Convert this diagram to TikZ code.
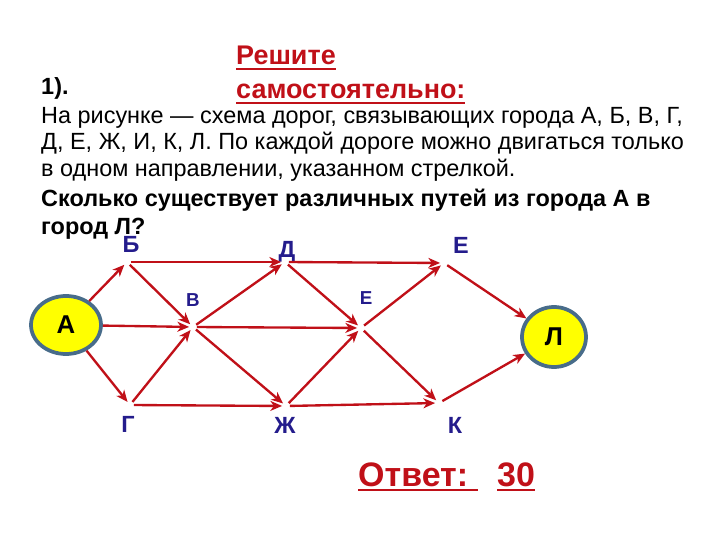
\documentclass[tikz,border=0pt]{standalone}
\usepackage{fontspec}
\setmainfont{Liberation Sans}
\usetikzlibrary{shapes.geometric, arrows.meta, positioning}
\definecolor{roadRed}{RGB}{192,16,24}
\definecolor{labelBlue}{RGB}{36,28,140}
\definecolor{cityRim}{RGB}{72,108,138}
\definecolor{cityFill}{RGB}{255,255,0}
\newcommand{\redline}[1]{\setbox0\hbox{#1}\rlap{\vrule height -2.2pt depth 4pt width \wd0}\box0}
\tikzstyle{city} = [draw=cityRim, fill=cityFill, ellipse, line width=3.2pt, inner sep=0pt, font=\fontsize{22}{26}\selectfont\bfseries]
\tikzstyle{junction} = [circle, inner sep=0pt, minimum size=0.22cm]
\tikzstyle{cityLabel} = [text=labelBlue, font=\fontsize{20}{23}\selectfont\bfseries]
\tikzstyle{smallLabel} = [text=labelBlue, font=\fontsize{16}{19}\selectfont\bfseries]
\tikzstyle{road} = [draw=roadRed, line width=2pt, -{Stealth[length=10pt, width=8.5pt, inset=3pt]}]
\tikzstyle{task} = [anchor=base west, inner sep=0pt, font=\fontsize{20}{23}\selectfont]
\tikzstyle{redTitle} = [anchor=base west, inner sep=0pt, text=roadRed, font=\fontsize{23}{26}\selectfont\bfseries]

\begin{document}
\begin{tikzpicture}[x=0.03cm, y=-0.03cm]
        \useasboundingbox (0,0) rectangle (720,540);
        % Task text
        \node [redTitle] (title) at (236,65) {\redline{Решите}};
        \node [redTitle] (titleTwo) at (236,99) {\redline{самостоятельно:}};
        \node [task, font=\fontsize{20}{23}\selectfont\bfseries] (number) at (41,95) {1).};
        \node [task] (lineOne) at (41,124) {На рисунке — схема дорог, связывающих города А, Б, В, Г,};
        \node [task] (lineTwo) at (41,150) {Д, Е, Ж, И, К, Л. По каждой дороге можно двигаться только};
        \node [task] (lineThree) at (41,177) {в одном направлении, указанном стрелкой.};
        \node [task, font=\fontsize{20}{23}\selectfont\bfseries] (question) at (41,207) {Сколько существует различных путей из города А в};
        \node [task, font=\fontsize{20}{23}\selectfont\bfseries] (questionTwo) at (41,235) {город Л?};

        % Cities
        \node [city, minimum width=2.1cm, minimum height=1.74cm] (cityA) at (66,325) {А};
        \node [city, minimum width=1.92cm, minimum height=1.8cm] (cityL) at (554,337) {Л};
        \node [junction] (cityB) at (127,262) {};
        \node [junction] (cityV) at (193,327) {};
        \node [junction] (cityG) at (130,405) {};
        \node [junction] (cityD) at (285,262) {};
        \node [junction] (cityZh) at (286,406) {};
        \node [junction] (cityI) at (361,328) {};
        \node [junction] (cityE) at (444,263) {};
        \node [junction] (cityK) at (439,403) {};

        % Labels
        \node [cityLabel] (labB) at (131,244) {Б};
        \node [cityLabel] (labD) at (287,252) {Д};
        \node [cityLabel] (labE) at (461,245) {Е};
        \node [smallLabel] (labV) at (193,300) {В};
        \node [smallLabel] (labI) at (366,298) {Е};
        \node [cityLabel] (labG) at (128,424) {Г};
        \node [cityLabel] (labZh) at (285,425) {Ж};
        \node [cityLabel] (labK) at (455,425) {К};

        % Roads
        \draw [road] (cityA) -- (cityB);
        \draw [road] (cityA) -- (cityV);
        \draw [road] (cityA) -- (cityG);
        \draw [road] (cityB) -- (cityD);
        \draw [road] (cityB) -- (cityV);
        \draw [road] (cityG) -- (cityV);
        \draw [road] (cityG) -- (cityZh);
        \draw [road] (cityV) -- (cityD);
        \draw [road] (cityV) -- (cityI);
        \draw [road] (cityV) -- (cityZh);
        \draw [road] (cityD) -- (cityI);
        \draw [road] (cityZh) -- (cityI);
        \draw [road] (cityD) -- (cityE);
        \draw [road] (cityZh) -- (cityK);
        \draw [road] (cityI) -- (cityE);
        \draw [road] (cityI) -- (cityK);
        \draw [road] (cityE) -- (cityL);
        \draw [road] (cityK) -- (cityL);

        % Answer
        \node [redTitle, font=\fontsize{29}{32}\selectfont\bfseries] (answer) at (358,486) {\redline{Ответ:\ }};
        \node [redTitle, font=\fontsize{29}{32}\selectfont\bfseries] (answerValue) at (497,486) {\redline{30}};
    \end{tikzpicture}
\end{document}
